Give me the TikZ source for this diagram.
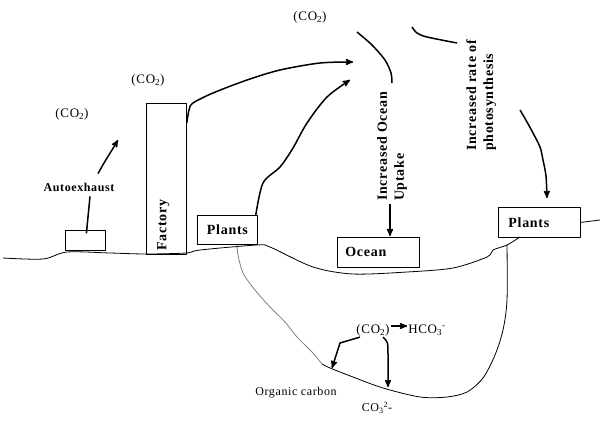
\documentclass[tikz,border=0pt]{standalone}
\usepackage{fontspec}
\setmainfont{Liberation Serif}[LetterSpace=5]
\usetikzlibrary{arrows}

\begin{document}
\begin{tikzpicture}[x=1pt,y=-1pt,>=stealth',line join=round,
  box node/.style={draw,line width=0.8pt,anchor=north west,inner sep=0pt,font=\fontsize{14}{17}\selectfont\bfseries},
  gas node/.style={inner sep=1pt,font=\fontsize{13}{15}\selectfont},
  small node/.style={inner sep=1pt,font=\fontsize{12}{14}\selectfont},
  side node/.style={rotate=90,anchor=north west,align=left,inner sep=0pt,font=\fontsize{14}{17}\selectfont\bfseries},
  hand/.style={line width=1.5pt},
  ground/.style={line width=0.8pt}]

  \useasboundingbox (0,0) rectangle (600,421);

  % boxes on the ground
  \node[box node,minimum width=40pt,minimum height=20pt] (autobox) at (65,230) {};
  \node[box node,minimum width=40pt,minimum height=151pt] (factory) at (146,103) {};
  \node[box node,minimum width=60pt,minimum height=29pt] (plantsL) at (197,215) {Plants};
  \node[box node,minimum height=30pt,text width=66pt,inner xsep=8pt,align=left] (ocean) at (337,237) {Ocean};
  \node[box node,minimum height=30pt,text width=62pt,inner xsep=10pt,align=left] (plantsR) at (498,207) {Plants};
  \node[rotate=90,anchor=west,inner sep=0pt,font=\fontsize{14}{17}\selectfont\bfseries] (factorytxt)
    at ([xshift=-3pt,yshift=4pt]factory.south) {Factory};

  % labels
  \node[gas node] (co2a) at (72,114) {(CO\textsubscript{2})};
  \node[gas node] (co2b) at (148,80) {(CO\textsubscript{2})};
  \node[gas node] (co2c) at (310,17) {(CO\textsubscript{2})};
  \node[small node,font=\fontsize{12}{14}\selectfont\bfseries] (autolabel) at (79,187) {Autoexhaust};
  \node[side node] (uptake) at (377,201) {Increased Ocean\\Uptake};
  \node[side node] (photo) at (466,151) {Increased rate of\\photosynthesis};
  \node[gas node] (co2in) at (373,330) {(CO\textsubscript{2})};
  \node[gas node] (hco3) at (427,330) {HCO\textsubscript{3}\textsuperscript{-}};
  \node[small node] (organic) at (296,393) {Organic carbon};
  \node[small node] (co3) at (377,408) {CO\textsubscript{3}\textsuperscript{2}-};

  \coordinate (autotip) at (118,140);
  \coordinate (factorytip) at (353,62);
  \coordinate (plantstip) at (350,80);
  \coordinate (uptaketop) at (357,32);
  \coordinate (uptakefoot) at (390,204);
  \coordinate (phototop) at (412,27);
  \coordinate (photofoot) at (520,110);
  \coordinate (organictip) at (332,368);
  \coordinate (co3tip) at (388,387);

  % ground and ocean basin
  \draw[ground] plot[smooth] coordinates {(3,258) (43,259) (67,252) (110,253) (146,254)
    (186,253) (200,250) (257,245) (270,247) (313,267) (353,274) (407,272) (453,268)
    (487,257) (493,250) (507,245) (520,237)};
  \draw[ground] (plantsR.east) -- (600,220);
  \draw[ground,gray] plot[smooth] coordinates {(237,245) (238,255) (243,273) (255,290)
    (270,307) (285,322) (297,337) (312,352) (322,364)};
  \draw[ground] plot[smooth] coordinates {(322,364) (330,368) (353,377) (383,388)
    (420,397) (447,397) (467,392) (483,378) (495,355) (503,330) (507,300) (507,245)};

  % connectors
  \draw[hand] ([xshift=1pt,yshift=7pt]autobox.center) -- ([xshift=11pt,yshift=-4pt]autolabel.south);
  \draw[hand,->] plot[smooth] coordinates {([xshift=19pt,yshift=8pt]autolabel.north)
    (104,163) (112,150) (autotip)};
  \draw[hand,->] plot[smooth] coordinates {([yshift=-20pt]factory.north east) (189,110)
    (193,103) (213,93) (247,80) (280,70) (320,63) (factorytip)};
  \draw[hand,->] plot[smooth] coordinates {([xshift=-2pt]plantsL.north east) (263,183)
    (280,167) (293,148) (307,123) (327,97) (plantstip)};
  \draw[hand] plot[smooth] coordinates {(uptaketop) (372,45) (385,60) (391,73) (392,83)};
  \draw[hand,->] (uptakefoot) -- ([yshift=1pt]uptakefoot |- ocean.north);
  \draw[hand] plot[smooth] coordinates {(phototop) (417,33) (427,37) (457,43)};
  \draw[hand,->] plot[smooth] coordinates {(photofoot) (527,122) (533,133) (540,147)
    (543,160) (546,176) (547,198)};
  \draw[hand,->] ([yshift=4pt]co2in.east) -- ([yshift=4pt]hco3.west);
  \draw[hand,->] ([xshift=-13pt]co2in.south) -- (340,343) -- (organictip);
  \draw[hand,->] ([xshift=10pt]co2in.south) .. controls (388,342) .. (388,355) -- (co3tip);

\end{tikzpicture}
\end{document}
